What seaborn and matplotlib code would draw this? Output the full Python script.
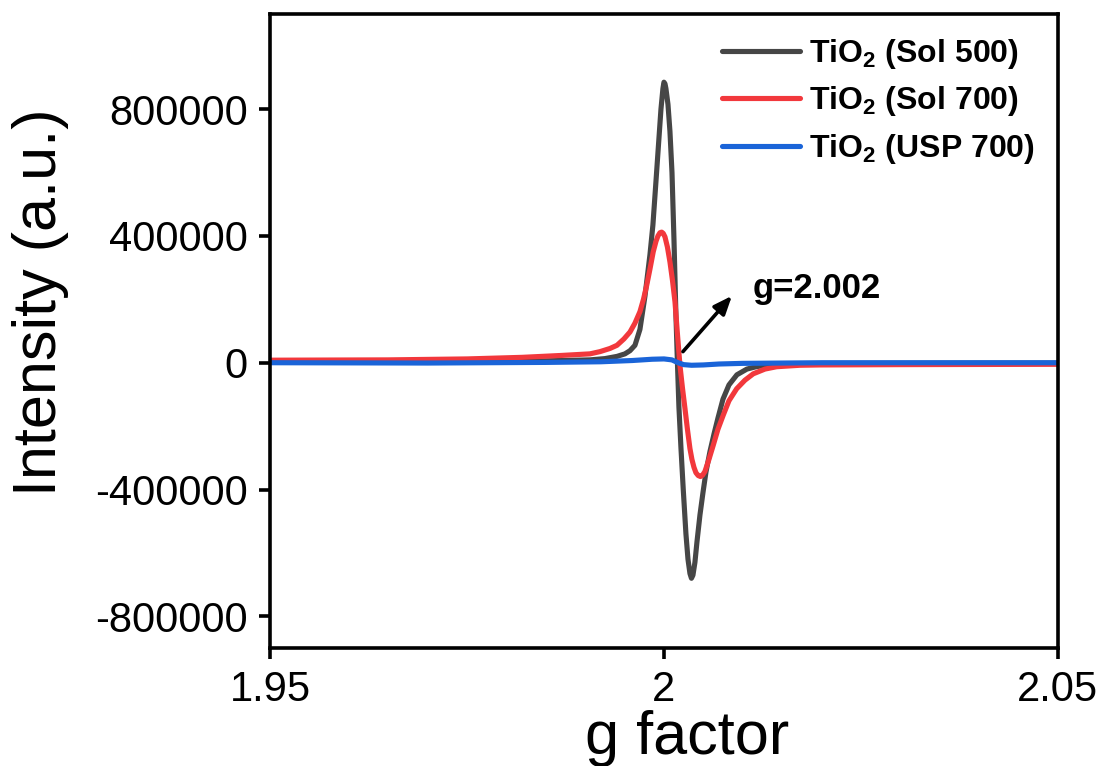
import numpy as np
import pandas as pd
import matplotlib
matplotlib.use("Agg")
import matplotlib.pyplot as plt
import seaborn as sns

# ---------------- data ----------------
g_sol500 = [1.9500, 1.9600, 1.9700, 1.9800, 1.9850, 1.99061, 1.99251, 1.99404, 1.99505,
            1.99569, 1.99632, 1.99695, 1.99759, 1.99822, 1.99860, 1.99898, 1.99937,
            1.99962, 1.99987, 2.00000, 2.00013, 2.00025, 2.00051, 2.00076, 2.00102,
            2.00127, 2.00152, 2.00171, 2.00190, 2.00216, 2.00245, 2.00279, 2.00305,
            2.00330, 2.00349, 2.00368, 2.00393, 2.00419, 2.00457, 2.00495, 2.00533,
            2.00584, 2.00635, 2.00685, 2.00749, 2.00825, 2.00926, 2.01053, 2.01180,
            2.01434, 2.0200, 2.0300, 2.0400, 2.0500]
i_sol500 = [2000, 2500, 3000, 4500, 6000, 9000, 13000, 20000, 28000,
            38000, 55000, 105000, 210000, 340000, 435000, 570000, 710000,
            800000, 865000, 885000, 880000, 865000, 815000, 730000, 600000,
            390000, 150000, 0, -140000, -270000, -400000, -540000, -620000,
            -665000, -680000, -670000, -630000, -565000, -480000, -410000, -345000,
            -280000, -225000, -175000, -115000, -70000, -38000, -20000, -12000,
            -5000, -2500, -2000, -1500, -1500]

g_sol700 = [1.9500, 1.9650, 1.9750, 1.9820, 1.9870, 1.99061, 1.99188, 1.99315, 1.99404,
            1.99492, 1.99569, 1.99632, 1.99695, 1.99740, 1.99781, 1.99822, 1.99864,
            1.99899, 1.99924, 1.99949, 1.99971, 1.99991, 2.00013, 2.00044, 2.00076,
            2.00108, 2.00140, 2.00171, 2.00203, 2.00235, 2.00267, 2.00298, 2.00330,
            2.00355, 2.00381, 2.00406, 2.00435, 2.00463, 2.00489, 2.00520, 2.00571,
            2.00626, 2.00685, 2.00753, 2.00825, 2.00923, 2.01028, 2.01133, 2.01282,
            2.01430, 2.01726, 2.01980, 2.03000, 2.04000, 2.05000]
i_sol700 = [8000, 9000, 12000, 17000, 23000, 28000, 35000, 45000, 55000,
            75000, 97000, 125000, 161000, 200000, 244000, 295000, 350000,
            383000, 400000, 410000, 412000, 408000, 397000, 365000, 318000,
            260000, 192000, 91000, -8400, -80000, -145000, -210000, -271000,
            -305000, -330000, -347000, -356000, -359000, -355000, -343000, -305000,
            -260000, -210000, -165000, -120000, -82000, -55000, -35000, -20000,
            -12600, -8000, -7000, -6000, -5500, -5000]

g_usp700 = [1.9500, 1.9700, 1.9850, 1.9920, 1.9960, 1.9985, 2.0000, 2.0010, 2.0018,
            2.0025, 2.0035, 2.0050, 2.0070, 2.0100, 2.0200, 2.0500]
i_usp700 = [0, -1000, 1000, 3000, 7000, 11000, 12000, 9000, 0,
            -6000, -8000, -7000, -4000, -2000, 0, 0]

labels = [r"TiO$_\mathbf{2}$ (Sol 500)", r"TiO$_\mathbf{2}$ (Sol 700)", r"TiO$_\mathbf{2}$ (USP 700)"]
colors = ["#464646", "#f2383c", "#1a64d8"]
y_ticks = [-800000, -400000, 0, 400000, 800000]
x_ticks = [1.95, 2.0, 2.05]
x_ticklabels = ["1.95", "2", "2.05"]

df = pd.concat([
    pd.DataFrame({"g": g_sol500, "I": i_sol500, "sample": labels[0]}),
    pd.DataFrame({"g": g_sol700, "I": i_sol700, "sample": labels[1]}),
    pd.DataFrame({"g": g_usp700, "I": i_usp700, "sample": labels[2]}),
], ignore_index=True)

# ---------------- style ----------------
sns.set_style("ticks")
plt.rcParams["font.family"] = ["Liberation Sans", "DejaVu Sans"]
plt.rcParams["mathtext.fontset"] = "custom"
plt.rcParams["mathtext.rm"] = "Liberation Sans"
plt.rcParams["mathtext.bf"] = "Liberation Sans:bold"
plt.rcParams["text.color"] = "black"
plt.rcParams["axes.labelcolor"] = "black"
plt.rcParams["xtick.color"] = "black"
plt.rcParams["ytick.color"] = "black"

fig = plt.figure(figsize=(11.02, 7.66), dpi=100)
ax = fig.add_axes([0.245, 0.154, 0.715, 0.8277])

sns.lineplot(data=df, x="g", y="I", hue="sample", palette=dict(zip(labels, colors)),
             estimator=None, sort=False, linewidth=3.7, ax=ax)
for ln in ax.get_lines():
    ln.set_solid_joinstyle("round")
    ln.set_solid_capstyle("round")

ax.set_xlim(1.95, 2.05)
ax.set_ylim(-900000, 1100000)
ax.set_xticks(x_ticks)
ax.set_xticklabels(x_ticklabels)
ax.set_yticks(y_ticks)
ax.set_yticklabels([str(v) for v in y_ticks])

for s in ax.spines.values():
    s.set_linewidth(2.6)
    s.set_color("black")
ax.tick_params(axis="both", which="major", direction="out", length=8, width=2.6,
               labelsize=30, pad=8, top=False, right=False, colors="black")

ax.set_xlabel("g factor", fontsize=44)
ax.set_ylabel("Intensity (a.u.)", fontsize=44)
ax.xaxis.set_label_coords(0.53, -0.098)
ax.yaxis.set_label_coords(-0.255, 0.545)

# annotation
ax.annotate("", xy=(2.00863, 211000), xytext=(2.00241, 35000),
            arrowprops=dict(arrowstyle="-|>,head_length=1.1,head_width=0.45",
                            color="black", lw=2.6, shrinkA=0, shrinkB=0))
ax.text(2.0112, 233000, "g=2.002", fontsize=25, fontweight="bold",
        ha="left", va="center")

leg = ax.legend(loc="upper left", bbox_to_anchor=(0.557, 0.984), frameon=False,
                fontsize=23, handlelength=2.45, handletextpad=0.3, labelspacing=0.42,
                borderaxespad=0.0)
for t in leg.get_texts():
    t.set_fontweight("bold")
for h in leg.get_lines():
    h.set_linewidth(3.7)
    h.set_solid_capstyle("round")

fig.savefig("out.png", dpi=100)
